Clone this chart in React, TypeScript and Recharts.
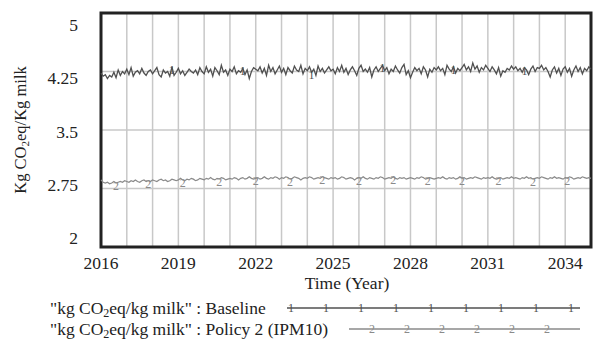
import { CartesianGrid, Line, LineChart, ReferenceArea, XAxis, YAxis } from "recharts";

// monthly values, Jan 2016 .. Jan 2035
const baseline = [
  4.23, 4.19, 4.21, 4.16, 4.20, 4.18, 4.24, 4.17, 4.27, 4.20, 4.25, 4.22,
  4.28, 4.21, 4.30, 4.19, 4.24, 4.26, 4.22, 4.29, 4.23, 4.20, 4.25, 4.27,
  4.22, 4.26, 4.30, 4.21, 4.18, 4.27, 4.23, 4.25, 4.19, 4.31, 4.20, 4.24,
  4.29, 4.22, 4.26, 4.20, 4.24, 4.28, 4.25, 4.23, 4.27, 4.21, 4.30, 4.25,
  4.22, 4.31, 4.24, 4.28, 4.19, 4.30, 4.26, 4.21, 4.33, 4.24, 4.27, 4.20,
  4.28, 4.25, 4.31, 4.22, 4.26, 4.24, 4.29, 4.21, 4.27, 4.16, 4.25, 4.30,
  4.28, 4.26, 4.31, 4.23, 4.29, 4.20, 4.33, 4.25, 4.30, 4.22, 4.27, 4.32,
  4.24, 4.29, 4.21, 4.30, 4.26, 4.23, 4.32, 4.27, 4.25, 4.33, 4.22, 4.29,
  4.26, 4.31, 4.24, 4.28, 4.20, 4.32, 4.25, 4.29, 4.23, 4.27, 4.31, 4.26,
  4.28, 4.22, 4.30, 4.25, 4.33, 4.24, 4.29, 4.21, 4.27, 4.31, 4.26, 4.20,
  4.29, 4.33, 4.25, 4.28, 4.24, 4.30, 4.18, 4.27, 4.31, 4.25, 4.29, 4.33,
  4.26, 4.30, 4.22, 4.28, 4.25, 4.32, 4.27, 4.23, 4.30, 4.34, 4.21, 4.26,
  4.17, 4.24, 4.30, 4.26, 4.29, 4.22, 4.31, 4.27, 4.18, 4.28, 4.24, 4.30,
  4.27, 4.31, 4.26, 4.29, 4.21, 4.33, 4.28, 4.25, 4.31, 4.23, 4.29, 4.26,
  4.30, 4.34, 4.27, 4.31, 4.25, 4.36, 4.28, 4.32, 4.24, 4.30, 4.27, 4.33,
  4.29, 4.25, 4.31, 4.27, 4.22, 4.30, 4.19, 4.26, 4.24, 4.29, 4.27, 4.32,
  4.28, 4.31, 4.26, 4.29, 4.24, 4.30, 4.27, 4.21, 4.28, 4.32, 4.25, 4.30,
  4.29, 4.33, 4.27, 4.30, 4.25, 4.18, 4.27, 4.31, 4.23, 4.29, 4.20, 4.28,
  4.31, 4.24, 4.29, 4.19, 4.27, 4.32, 4.25, 4.30, 4.22, 4.29, 4.26, 4.31,
  4.28,
];

const policy2 = [
  2.86, 2.83, 2.82, 2.83, 2.81, 2.82, 2.84, 2.82, 2.83, 2.84, 2.83, 2.85,
  2.84, 2.83, 2.85, 2.84, 2.86, 2.84, 2.83, 2.85, 2.86, 2.84, 2.85, 2.84,
  2.86, 2.85, 2.84, 2.86, 2.87, 2.85, 2.86, 2.84, 2.85, 2.87, 2.86, 2.85,
  2.86, 2.88, 2.86, 2.85, 2.87, 2.86, 2.88, 2.87, 2.85, 2.86, 2.88, 2.87,
  2.86, 2.88, 2.87, 2.89, 2.87, 2.86, 2.88, 2.87, 2.89, 2.88, 2.86, 2.87,
  2.88, 2.87, 2.89, 2.88, 2.86, 2.88, 2.89, 2.87, 2.88, 2.90, 2.88, 2.87,
  2.88, 2.89, 2.87, 2.88, 2.90, 2.88, 2.87, 2.89, 2.88, 2.90, 2.89, 2.87,
  2.89, 2.88, 2.90, 2.89, 2.87, 2.88, 2.90, 2.89, 2.88, 2.86, 2.88, 2.89,
  2.88, 2.90, 2.89, 2.87, 2.88, 2.89, 2.88, 2.90, 2.89, 2.88, 2.87, 2.89,
  2.88, 2.89, 2.87, 2.88, 2.90, 2.89, 2.87, 2.88, 2.89, 2.88, 2.86, 2.88,
  2.89, 2.88, 2.90, 2.88, 2.87, 2.89, 2.88, 2.87, 2.89, 2.88, 2.90, 2.89,
  2.87, 2.88, 2.89, 2.88, 2.90, 2.88, 2.87, 2.89, 2.88, 2.89, 2.87, 2.88,
  2.89, 2.88, 2.87, 2.89, 2.88, 2.90, 2.89, 2.87, 2.88, 2.89, 2.88, 2.87,
  2.88, 2.89, 2.88, 2.90, 2.88, 2.87, 2.89, 2.88, 2.89, 2.87, 2.88, 2.90,
  2.88, 2.89, 2.87, 2.88, 2.89, 2.88, 2.90, 2.89, 2.88, 2.87, 2.89, 2.88,
  2.89, 2.88, 2.90, 2.88, 2.87, 2.88, 2.89, 2.87, 2.88, 2.89, 2.88, 2.90,
  2.88, 2.89, 2.88, 2.87, 2.89, 2.88, 2.90, 2.88, 2.89, 2.87, 2.88, 2.89,
  2.88, 2.90, 2.89, 2.88, 2.87, 2.89, 2.88, 2.90, 2.88, 2.89, 2.88, 2.87,
  2.89, 2.88, 2.90, 2.89, 2.87, 2.88, 2.89, 2.88, 2.90, 2.89, 2.88, 2.89,
  2.88,
];

// month indices where the line number is printed on each curve
const baselineMarks = [33, 66, 98, 131, 164, 197];
const policyMarks = [7, 22, 38, 55, 72, 88, 103, 120, 136, 152, 168, 185, 201, 217];

const yearTicks = [2016, 2019, 2022, 2025, 2028, 2031, 2034];
const yearGrid = [2017, 2018, 2019, 2020, 2021, 2022, 2023, 2024, 2025, 2026, 2027, 2028, 2029, 2030, 2031, 2032, 2033, 2034];
const yTicks = [2, 2.75, 3.5, 4.25, 5];

const data = baseline.map((v, i) => ({ t: 2016 + i / 12, baseline: v, policy: policy2[i] }));

const FONT = "Liberation Serif";
const C1 = "#505050";
const C2 = "#8a8a8a";
const txt = { fontFamily: FONT };

const markDot = (marks: number[], label: string, color: string) => (props: any) => {
  const { cx, cy, index } = props;
  if (!marks.includes(index)) return <g key={`d${label}${index}`} />;
  return (
    <text key={`d${label}${index}`} x={cx} y={cy + 7} textAnchor="middle" fontSize={12} fill={color} style={txt}>
      {label}
    </text>
  );
};

const YTick = ({ y, payload }: any) => {
  // labels are spread a bit inside the plot range
  const ly = 25 + (y - 13) * (213 / 234);
  return (
    <text x={78} y={ly + 6} textAnchor="end" fontSize={17.5} fill="#222" style={txt}>
      {payload.value}
    </text>
  );
};

const XTick = ({ x, payload }: any) => (
  <text x={x} y={269} textAnchor="middle" fontSize={17.5} fill="#222" style={txt}>
    {payload.value}
  </text>
);

function LegendRow({ y, text, x1, color, marks, label }: any) {
  return (
    <g>
      <text x={50} y={y + 5.5} fontSize={17.5} fill="#222" style={txt}>
        "kg CO<tspan fontSize={12} dy={3}>2</tspan>
        <tspan dy={-3}>eq/kg milk" : {text}</tspan>
      </text>
      <line x1={x1} x2={580} y1={y} y2={y} stroke={color} strokeWidth={1.3} />
      {marks.map((m: number) => (
        <text key={m} x={m} y={y + 4} textAnchor="middle" fontSize={12} fill={color} style={txt}>
          {label}
        </text>
      ))}
    </g>
  );
}

export default function App() {
  return (
    <div style={{ position: "fixed", left: 0, top: 0, width: 593, height: 340, background: "#fff", fontFamily: FONT }}>
      <LineChart width={593} height={340} data={data} margin={{ top: 13, right: 2, left: 0, bottom: 63 }}>
        <CartesianGrid verticalValues={yearGrid} horizontalValues={[2.75, 3.5, 4.25]} stroke="#c8c8c8" strokeWidth={1.5} />
        <XAxis
          dataKey="t"
          type="number"
          domain={[2016, 2035]}
          ticks={yearTicks}
          axisLine={false}
          tickLine={false}
          height={30}
          tick={<XTick />}
          interval={0}
        />
        <YAxis
          type="number"
          domain={[2, 5]}
          ticks={yTicks}
          width={101}
          axisLine={false}
          tickLine={false}
          tick={<YTick />}
          interval={0}
        />
        <Line
          dataKey="baseline"
          stroke={C1}
          strokeWidth={1.3}
          dot={markDot(baselineMarks, "1", C1)}
          isAnimationActive={false}
        />
        <Line
          dataKey="policy"
          stroke={C2}
          strokeWidth={1.2}
          dot={markDot(policyMarks, "2", C2)}
          isAnimationActive={false}
        />
        <ReferenceArea x1={2016} x2={2035} y1={2} y2={5} fill="none" stroke="#222" strokeWidth={3} ifOverflow="visible" />
      </LineChart>
      <svg width={593} height={340} style={{ position: "absolute", left: 0, top: 0, pointerEvents: "none" }}>
        <text transform="translate(26,130) rotate(-90)" textAnchor="middle" fontSize={16.5} fill="#222" style={txt}>
          Kg CO<tspan fontSize={11} dy={3}>2</tspan>
          <tspan dy={-3}>eq/Kg milk</tspan>
        </text>
        <text x={347} y={289} textAnchor="middle" fontSize={17.5} fill="#222" style={txt}>
          Time (Year)
        </text>
        <LegendRow y={308} text="Baseline" x1={287} color={C1} label="1" marks={[291, 326, 361, 396, 431, 466, 501, 536, 571]} />
        <LegendRow y={329} text="Policy 2 (IPM10)" x1={349} color={C2} label="2" marks={[372, 407, 442, 477, 512, 547]} />
      </svg>
    </div>
  );
}
